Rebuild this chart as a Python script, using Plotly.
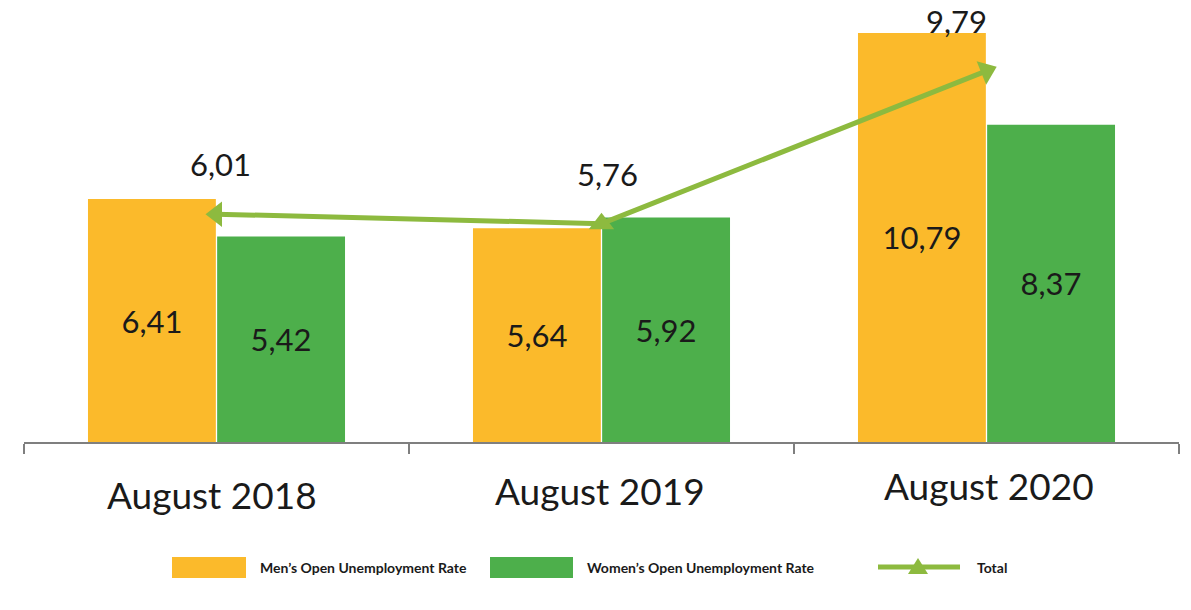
import plotly.graph_objects as go

# Open unemployment rate by sex (%), August of each year
periods = ["August 2018", "August 2019", "August 2020"]
men_rate = [6.41, 5.64, 10.79]
women_rate = [5.42, 5.92, 8.37]
total_rate = [6.01, 5.76, 9.79]

legend_labels = ["Men’s Open Unemployment Rate", "Women’s Open Unemployment Rate", "Total"]

W, H = 1191, 610
ORANGE = "#FBBA2B"
GREEN = "#4DAF4B"
LINE_GREEN = "#8DBA3F"
TEXT = "#1A1A1A"
FONT = "Lato"


def fmt(v):
    return f"{v:.2f}".replace(".", ",")


def px_x(p):
    return p / W


def px_y(p):
    return 1 - p / H


fig = go.Figure()

fig.add_trace(go.Bar(
    x=periods, y=men_rate, name=legend_labels[0],
    marker=dict(color=ORANGE, line=dict(width=0)),
    text=[fmt(v) for v in men_rate], textposition="inside",
    insidetextanchor="middle", textangle=0,
    textfont=dict(family=FONT, size=31, color=TEXT),
    showlegend=False,
))
fig.add_trace(go.Bar(
    x=periods, y=women_rate, name=legend_labels[1],
    marker=dict(color=GREEN, line=dict(width=0)),
    text=[fmt(v) for v in women_rate], textposition="inside",
    insidetextanchor="middle", textangle=0,
    textfont=dict(family=FONT, size=31, color=TEXT),
    showlegend=False,
))
fig.add_trace(go.Scatter(
    x=periods, y=total_rate, name=legend_labels[2], mode="lines+markers",
    line=dict(color=LINE_GREEN, width=5),
    marker=dict(symbol="triangle-up", size=22, color=LINE_GREEN,
                angle=[-90, 0, 68]),
    showlegend=False,
))

# value labels above the total line
x_shifts = [4, 6, -30]
for p, v, dx in zip(periods, total_rate, x_shifts):
    fig.add_annotation(x=p, y=v, text=fmt(v), showarrow=False,
                       yshift=50, xshift=dx,
                       font=dict(family=FONT, size=31, color=TEXT))

# category labels under the axis
label_y = [494, 490, 485]
label_dx = [-5, -2, 2]
for p, ly, dx in zip(periods, label_y, label_dx):
    fig.add_annotation(x=p, y=px_y(ly), yref="paper", yanchor="middle",
                       text=p, showarrow=False, xshift=dx,
                       font=dict(family=FONT, size=37, color=TEXT))

# legend
shapes = []
shapes.append(dict(type="rect", xref="paper", yref="paper",
                   x0=px_x(172), x1=px_x(246), y0=px_y(578), y1=px_y(557),
                   fillcolor=ORANGE, line=dict(width=0)))
shapes.append(dict(type="rect", xref="paper", yref="paper",
                   x0=px_x(490), x1=px_x(573), y0=px_y(578), y1=px_y(557),
                   fillcolor=GREEN, line=dict(width=0)))
shapes.append(dict(type="line", xref="paper", yref="paper",
                   x0=px_x(878), x1=px_x(960), y0=px_y(567), y1=px_y(567),
                   line=dict(color=LINE_GREEN, width=5)))
tri = f"M {px_x(908)} {px_y(574)} L {px_x(928)} {px_y(574)} L {px_x(918)} {px_y(558)} Z"
shapes.append(dict(type="path", xref="paper", yref="paper", path=tri,
                   fillcolor=LINE_GREEN, line=dict(width=0)))
fig.update_layout(shapes=shapes)

legend_text_x = [258, 585, 975]
for lbl, lx in zip(legend_labels, legend_text_x):
    fig.add_annotation(x=px_x(lx), y=px_y(567), xref="paper", yref="paper",
                       xanchor="left", yanchor="middle", text=f"<b>{lbl}</b>",
                       showarrow=False,
                       font=dict(family=FONT, size=14, color=TEXT))

fig.update_layout(
    width=W, height=H,
    margin=dict(l=0, r=0, t=0, b=0),
    paper_bgcolor="white", plot_bgcolor="white",
    barmode="group", bargap=0.329, bargroupgap=0.01,
    uniformtext=dict(mode=False),
    xaxis=dict(domain=[px_x(24), px_x(1179)], showgrid=False,
               showline=True, linecolor="#7F7F7F", linewidth=1.5,
               ticks="outside", tickson="boundaries", ticklen=10,
               tickcolor="#7F7F7F", tickwidth=1.5,
               showticklabels=False, fixedrange=True),
    yaxis=dict(domain=[px_y(442), 1], range=[0, 11.66], visible=False,
               fixedrange=True),
    font=dict(family=FONT),
)

fig.write_html("out.html")
